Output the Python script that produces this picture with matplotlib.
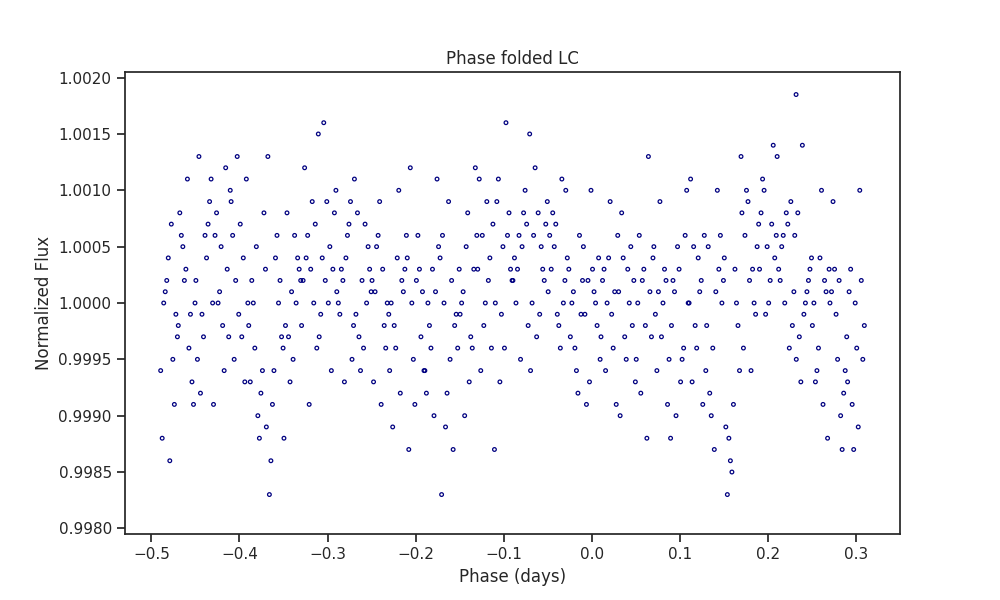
import matplotlib
matplotlib.use("Agg")
import matplotlib.pyplot as plt
import seaborn as sns
import numpy as np

sns.set_theme(style="ticks")

bin_centers = [round(-0.48 + 0.02 * i, 2) for i in range(40)]
# flux deviations in units of 1e-4, 12 points per phase bin
flux_dev = [
 [4,-6,-9,1,-3,7,-12,-1,2,-5,0,-14],
 [11,3,-2,-7,5,0,-4,8,-9,2,-1,6],
 [13,6,-3,2,9,-8,0,4,-5,11,-1,7],
 [12,8,-2,5,-9,3,0,10,-6,6,-3,1],
 [13,4,-5,7,-1,9,-7,2,0,-3,6,11],
 [8,-4,-8,2,-10,5,-2,-6,0,3,-12,-7],
 [13,-3,-9,0,-17,4,-6,-11,2,-14,-4,6],
 [6,-2,3,-7,0,8,-5,1,-12,4,-3,2],
 [15,9,2,-4,6,0,12,3,-9,-2,7,4],
 [16,10,5,-1,8,2,-6,4,0,9,-3,3],
 [9,3,-2,6,0,-5,2,7,-1,4,-7,1],
 [11,5,-3,1,7,-1,3,-6,0,8,-4,2],
 [9,2,-4,5,-1,3,-7,0,6,-2,1,-9],
 [10,4,-6,1,-2,6,-8,0,3,-4,2,-11],
 [12,2,-9,4,-3,0,-6,6,-13,1,-5,3],
 [11,0,-10,3,-6,5,-2,-17,1,-8,4,-4],
 [9,-2,-11,2,-5,6,-1,-8,3,-13,0,-4],
 [12,5,-4,1,-7,8,-1,3,-10,6,-3,0],
 [11,7,-2,4,-6,9,0,3,-4,6,-13,2],
 [16,9,3,-1,6,11,-4,5,0,8,-7,2],
 [15,8,4,-2,6,10,0,5,-5,2,7,3],
 [12,9,5,0,7,-3,3,6,-1,8,-6,2],
 [11,8,2,-2,6,0,5,-4,3,-1,7,1],
 [10,6,-3,2,-6,4,-1,0,-8,3,-4,1],
 [10,5,-2,2,-5,1,-1,4,-7,0,-9,3],
 [9,4,-3,1,-6,6,-1,2,-9,0,-4,3],
 [8,3,-5,1,-2,4,-7,0,-10,2,-3,5],
 [13,6,-2,3,-5,1,-8,4,-12,0,-3,2],
 [9,2,-6,0,-3,5,-9,1,-12,3,-1,-5],
 [10,5,-4,1,-7,3,-2,6,-10,0,-5,2],
 [11,6,-2,2,-7,4,-4,0,-9,5,-6,1],
 [10,5,0,-4,3,-8,1,-13,-2,6,-10,2],
 [13,3,-11,-6,-14,0,-17,-9,-15,4,-2,-12],
 [10,7,3,-4,5,9,0,6,-6,2,8,-1],
 [14,10,6,2,8,4,-1,7,11,0,5,3],
 [13,9,5,1,7,3,-2,6,-4,2,8,0],
 [14,6,2,-3,4,0,-5,3,-7,1,8,-1],
 [10,4,-2,1,-6,3,-9,0,-12,-4,2,-7],
 [9,2,-5,0,-8,3,-3,-10,1,-6,-1,-13],
 [10,3,-4,0,-7,2,-9,-2,-11,1,-5,-13],
]
extra_phase = [0.232]
extra_dev = [18.5]

slot_order = [5, 0, 9, 3, 11, 7, 1, 10, 4, 8, 2, 6]
offsets = np.linspace(-0.0095, 0.0095, 12)[slot_order]
phase, flux = [], []
for i, (c, vals) in enumerate(zip(bin_centers, flux_dev)):
    offs = np.roll(offsets, i)
    for o, v in zip(offs, vals):
        phase.append(c + o)
        flux.append(1 + v * 1e-4)
for p, v in zip(extra_phase, extra_dev):
    phase.append(p); flux.append(1 + v * 1e-4)

fig, ax = plt.subplots(figsize=(10, 6), dpi=100)
ax.scatter(phase, flux, s=7, facecolors="none", edgecolors="navy", linewidths=0.9)
ax.set_xlim(-0.53, 0.35)
ax.set_ylim(0.99795, 1.00205)
ax.set_xticks(np.arange(-0.5, 0.31, 0.1))
ax.set_yticks(np.arange(0.998, 1.00201, 0.0005))
ax.yaxis.set_major_formatter(matplotlib.ticker.FormatStrFormatter("%.4f"))
for s in ax.spines.values():
    s.set_color("#262626")
ax.set_xlabel("Phase (days)")
ax.set_ylabel("Normalized Flux")
ax.set_title("Phase folded LC")
fig.savefig("out.png")
